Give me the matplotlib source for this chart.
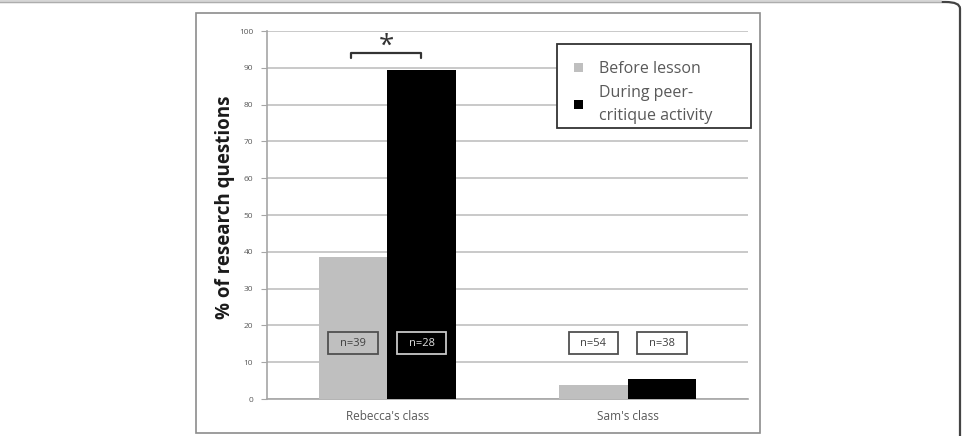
import numpy as np
import matplotlib.pyplot as plt
from matplotlib.patches import Rectangle, FancyBboxPatch

plt.rcParams['font.family'] = ['Open Sans', 'DejaVu Sans']

classes = ["Rebecca's class", "Sam's class"]
before = [38.5, 3.8]
during = [89.5, 5.4]
n_before = ["n=39", "n=54"]
n_during = ["n=28", "n=38"]
yticks = list(range(0, 101, 10))

GRAY = "#bfbfbf"
TXT = "#595959"
W, H = 969, 436

fig = plt.figure(figsize=(W / 100, H / 100), dpi=100)

# page frame (rounded corner at top right) and chart frame
fig.patches.append(FancyBboxPatch((-0.05, -0.05), 0.05 + 960 / W, 0.05 + 1 - 2 / H,
                                  boxstyle="round,pad=0,rounding_size=0.015",
                                  transform=fig.transFigure, fill=False,
                                  edgecolor="#444444", linewidth=1.6, zorder=0))
fig.add_artist(plt.Line2D([0, 0.97], [1 - 1.5 / H] * 2, transform=fig.transFigure,
                          color="#d0d0d0", linewidth=1.8))
fig.patches.append(Rectangle((196 / W, 3 / H), (760 - 196) / W, (423 - 3) / H,
                             transform=fig.transFigure, fill=False,
                             edgecolor="#8c8c8c", linewidth=1.2, zorder=0))

ax = fig.add_axes([267 / W, 1 - 399 / H, (748 - 267) / W, (399 - 31) / H])
x = np.arange(len(classes))
w = 0.285
ax.bar(x - w / 2, before, w, color=GRAY, zorder=3, label="Before lesson")
ax.bar(x + w / 2, during, w, color="black", zorder=3, label="During peer-\ncritique activity")

ax.set_xlim(-0.5, 1.5)
ax.set_ylim(0, 100)
ax.set_yticks(yticks)
ax.set_yticklabels([str(v) for v in yticks], fontsize=6, color=TXT)
ax.set_xticks(x)
ax.set_xticklabels(classes, fontsize=8.5, color=TXT)
ax.tick_params(axis="x", length=0, pad=8)
ax.tick_params(axis="y", length=4, color="#a6a6a6", pad=6)
ax.yaxis.grid(True, color="#c0c0c0", linewidth=1.2, zorder=0)
ax.set_axisbelow(True)
for s in ["top", "right"]:
    ax.spines[s].set_visible(False)
for s in ["left", "bottom"]:
    ax.spines[s].set_color("#a6a6a6")
    ax.spines[s].set_linewidth(1.2)
ax.set_ylabel("% of research questions", fontsize=13.5, fontweight="bold",
              color="#1a1a1a", labelpad=1)
ax.yaxis.set_label_coords(-0.066, 0.52)

# n labels in boxes
bw, bh, by = 0.204, 6.0, 15.2
for i in range(len(classes)):
    for cx, lab, val, is_during in [(x[i] - w / 2, n_before[i], before[i], False),
                                    (x[i] + w / 2, n_during[i], during[i], True)]:
        inside = val > by + bh
        if inside and is_during:
            fc, ec, tc = "black", "#c8c8c8", "#e0e0e0"
        elif inside:
            fc, ec, tc = GRAY, "#505050", "#404040"
        else:
            fc, ec, tc = "white", "#505050", "#404040"
        ax.add_patch(Rectangle((cx - bw / 2, by - bh / 2), bw, bh, facecolor=fc,
                               edgecolor=ec, linewidth=1.3, zorder=5))
        ax.text(cx, by, lab, ha="center", va="center", fontsize=8, color=tc, zorder=6)

# significance bracket
xs = [x[0] - 0.15, x[0] - 0.15, x[0] + 0.14, x[0] + 0.14]
ax.plot(xs, [92.6, 94.0, 94.0, 92.6], color="#333333", linewidth=1.6, zorder=6,
        solid_capstyle="round", clip_on=False)
ax.text(x[0] - 0.005, 93.8, "*", ha="center", va="baseline", fontsize=20,
        color="#333333")

# legend: frame drawn separately so the content can sit where the original has it
ax.add_patch(Rectangle((557 / W, 1 - 128 / H), (751 - 557) / W, (128 - 44) / H,
                       transform=fig.transFigure, facecolor="white", clip_on=False,
                       edgecolor="#333333", linewidth=1.3, zorder=4))
leg = ax.legend(loc="upper left", bbox_to_anchor=((574 - 267) / 481, (399 - 61) / 368),
                fontsize=11.5, frameon=False, handlelength=0.55, handleheight=0.55,
                handletextpad=1.0, borderpad=0, labelspacing=0.5, borderaxespad=0)
leg.set_zorder(6)
for t in leg.get_texts():
    t.set_color(TXT)
    t.set_linespacing(1.55)

fig.savefig("out.png", dpi=100, facecolor="white")
